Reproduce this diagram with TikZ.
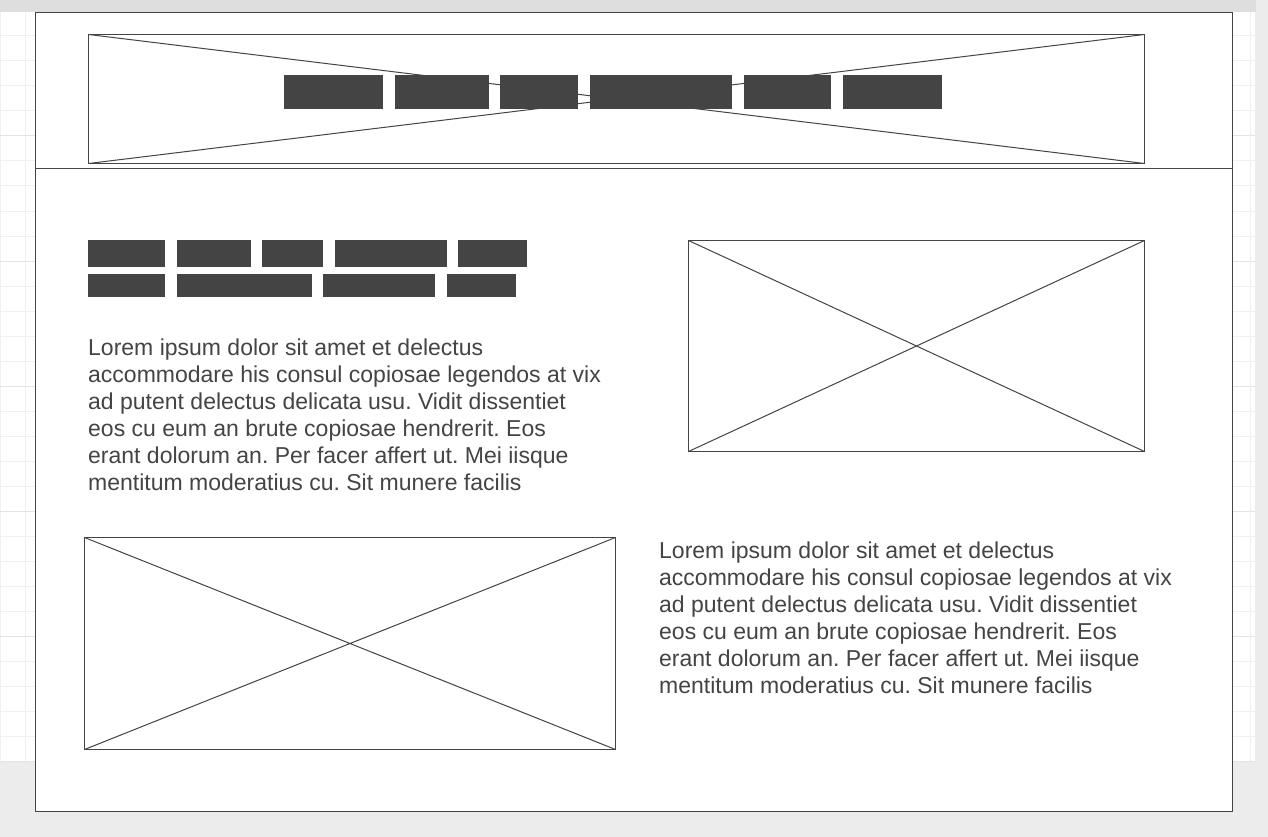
\documentclass[tikz,border=0pt]{standalone}
\usepackage{fontspec}
\setmainfont{Liberation Sans}
\frenchspacing
\definecolor{ink}{HTML}{444444}
\definecolor{gridln}{HTML}{F0F0F0}
\definecolor{gridbold}{HTML}{E4E4E4}
\definecolor{desk}{HTML}{ECECEC}
\definecolor{topband}{HTML}{DEDEDE}
\def\xbox#1{\draw[ink, line width=1pt] (#1.north west) -- (#1.south east) (#1.south west) -- (#1.north east);}
\def\lorem{Lorem ipsum dolor sit amet et delectus\\
accommodare his consul copiosae legendos at vix\\
ad putent delectus delicata usu. Vidit dissentiet\\
eos cu eum an brute copiosae hendrerit. Eos\\
erant dolorum an. Per facer affert ut. Mei iisque\\
mentitum moderatius cu. Sit munere facilis}

\begin{document}
\begin{tikzpicture}[x=1pt, y=-1pt,
    ph/.style={draw=ink, line width=1pt, fill=white, inner sep=0pt, outer sep=0pt, anchor=north west},
    blk/.style={fill=ink, inner sep=0pt, outer sep=0pt, anchor=north west},
    para/.style={text=ink, align=left, inner sep=0pt, anchor=base west, font=\fontsize{23}{27}\selectfont}]
        \useasboundingbox (0,0) rectangle (1268,837);
        % desk and grid paper
        \fill[desk] (0,0) rectangle (1268,837);
        \fill[topband] (0,0) rectangle (1256,12);
        \fill[white] (0,12) rectangle (1255,761);
        \foreach \gx in {0,25,...,1250}{
        \draw[gridln, line width=1pt] (\gx+.5,12) -- (\gx+.5,761);
        }
        \foreach \gy in {36,61,...,761}{
        \draw[gridln, line width=1pt] (0,\gy) -- (1255,\gy);
        }
        \foreach \gy in {136,261,...,761}{
        \draw[gridbold, line width=1pt] (0,\gy) -- (1255,\gy);
        }
        % page
        \node[ph, minimum width=1197, minimum height=799] (page) at (35.5,12.5) {};
        \coordinate (hdr) at (35.5,168.5);
        \draw[ink, line width=1pt] (hdr) -- (hdr -| page.east);
        % header banner
        \node[ph, minimum width=1056, minimum height=129] (banner) at (88.5,34.5) {};
        \xbox{banner}
        \foreach \a/\b [count=\i] in {284/383, 395/489, 500/578, 590/732, 744/831, 843/942}{
        \node[blk, minimum width=\b-\a, minimum height=34] (nav\i) at (\a,75) {};
        }
        % title bars
        \foreach \a/\b [count=\i] in {88/165, 177/251, 262/323, 335/447, 458/527}{
        \node[blk, minimum width=\b-\a, minimum height=26.5] (ta\i) at (\a,240) {};
        }
        \foreach \a/\b [count=\i] in {88/165, 177/312, 323/435, 447/516}{
        \node[blk, minimum width=\b-\a, minimum height=23] (tb\i) at (\a,274) {};
        }
        % text and pictures (base = last line)
        \node[para] (txta) at (88,490) {\lorem};
        \node[ph, minimum width=456, minimum height=211] (pica) at (688.5,240.5) {};
        \xbox{pica}
        \node[ph, minimum width=531, minimum height=212] (picb) at (84.5,537.5) {};
        \xbox{picb}
        \node[para] (txtb) at (659,693) {\lorem};
      \end{tikzpicture}
\end{document}
